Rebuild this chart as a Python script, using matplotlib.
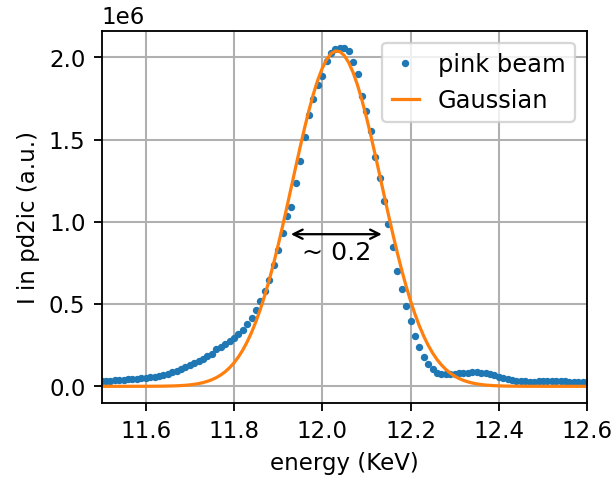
import numpy as np
import matplotlib
matplotlib.use("Agg")
import matplotlib.pyplot as plt

# energy grid of the measured points (KeV), 11.50 .. 12.60 step 0.01
energy = [round(11.50 + 0.01 * i, 2) for i in range(111)]

# pink beam intensity, in units of 1e6
pink_beam = [
    0.030, 0.032, 0.034, 0.036, 0.038, 0.040, 0.042, 0.044, 0.046, 0.048,  # 11.50-11.59
    0.050, 0.054, 0.058, 0.063, 0.069, 0.076, 0.085, 0.095, 0.106, 0.117,  # 11.60-11.69
    0.128, 0.140, 0.153, 0.167, 0.182, 0.199, 0.225, 0.242, 0.260, 0.277,  # 11.70-11.79
    0.295, 0.318, 0.345, 0.381, 0.417, 0.462, 0.518, 0.577, 0.644, 0.735,  # 11.80-11.89
    0.826, 0.930, 1.035, 1.089, 1.235, 1.369, 1.519, 1.652, 1.750, 1.835,  # 11.90-11.99
    1.888, 1.981, 2.025, 2.054, 2.060, 2.058, 2.041, 1.973, 1.900, 1.768,  # 12.00-12.09
    1.677, 1.551, 1.393, 1.268, 1.126, 0.984, 0.846, 0.700, 0.594, 0.486,  # 12.10-12.19
    0.395, 0.306, 0.239, 0.178, 0.134, 0.103, 0.084, 0.076, 0.073, 0.074,  # 12.20-12.29
    0.076, 0.079, 0.082, 0.084, 0.086, 0.086, 0.084, 0.080, 0.074, 0.066,  # 12.30-12.39
    0.057, 0.049, 0.042, 0.037, 0.033, 0.031, 0.030, 0.029, 0.029, 0.030,  # 12.40-12.49
    0.030, 0.031, 0.031, 0.031, 0.030, 0.030, 0.029, 0.029, 0.028, 0.028,  # 12.50-12.59
    0.027,                                                                 # 12.60
]

# gaussian fit curve on the same grid, in units of 1e6
gaussian = [
    0.0000, 0.0000, 0.0000, 0.0000, 0.0000, 0.0000, 0.0000, 0.0000, 0.0001, 0.0001,
    0.0002, 0.0003, 0.0005, 0.0007, 0.0011, 0.0016, 0.0022, 0.0032, 0.0045, 0.0063,
    0.0089, 0.0123, 0.0168, 0.0227, 0.0304, 0.0402, 0.0529, 0.0687, 0.0886, 0.1129,
    0.1426, 0.1783, 0.2207, 0.2707, 0.3287, 0.3952, 0.4705, 0.5549, 0.6477, 0.7487,
    0.8572, 0.9718, 1.0910, 1.2128, 1.3352, 1.4553, 1.5710, 1.6793, 1.7777, 1.8633,
    1.9339, 1.9878, 2.0233, 2.0391, 2.0351, 2.0113, 1.9684, 1.9076, 1.8307, 1.7397,
    1.6371, 1.5255, 1.4076, 1.2862, 1.1638, 1.0428, 0.9253, 0.8129, 0.7073, 0.6093,
    0.5200, 0.4393, 0.3675, 0.3044, 0.2497, 0.2028, 0.1632, 0.1300, 0.1026, 0.0801,
    0.0620, 0.0475, 0.0360, 0.0270, 0.0201, 0.0148, 0.0108, 0.0078, 0.0056, 0.0040,
    0.0028, 0.0019, 0.0013, 0.0009, 0.0006, 0.0004, 0.0003, 0.0002, 0.0001, 0.0001,
    0.0000, 0.0000, 0.0000, 0.0000, 0.0000, 0.0000, 0.0000, 0.0000, 0.0000, 0.0000,
    0.0000,
]

# FWHM marker
fwhm_left, fwhm_right, fwhm_level = 11.929, 12.135, 0.925
fwhm_text = "~ 0.2"

dpi = 165
fig = plt.figure(figsize=(615.4 / dpi, 481.4 / dpi), dpi=dpi)
ax = fig.add_axes([0.165, 0.1615, 0.954 - 0.165, 0.9356 - 0.1615])

e = np.array(energy)
ax.plot(e, np.array(pink_beam) * 1e6, '.', ms=4.4, label='pink beam')
ax.plot(e, np.array(gaussian) * 1e6, '-', lw=1.4, label='Gaussian')

ax.annotate('', xy=(fwhm_left, fwhm_level * 1e6), xytext=(fwhm_right, fwhm_level * 1e6),
            arrowprops=dict(arrowstyle='<->', lw=1.0, color='black',
                            shrinkA=0, shrinkB=0))
ax.text((fwhm_left + fwhm_right) / 2, (fwhm_level - 0.11) * 1e6, fwhm_text,
        ha='center', va='center', fontsize=11)

ax.set_xlim(11.5, 12.6)
ax.grid(True, lw=0.9)
ax.set_xlabel('energy (KeV)')
ax.set_ylabel('I in pd2ic (a.u.)')
ax.legend(loc='upper right', fontsize=10.5, handlelength=1.1)

fig.savefig('out.png', dpi=dpi)
